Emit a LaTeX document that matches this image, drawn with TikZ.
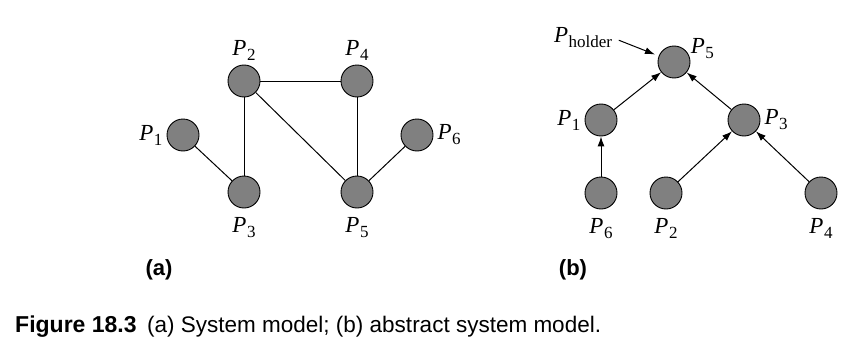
\documentclass[tikz,border=0pt]{standalone}
\usepackage{fontspec}
\setmainfont{Liberation Serif}
\newfontfamily\capfont{Liberation Sans}
\usetikzlibrary{arrows.meta, positioning}
\newcommand{\pname}[1]{\textit{P}\kern0.5pt\raisebox{-5pt}{\fontsize{17}{17}\selectfont #1}}
\tikzset{
  proc/.style={circle, draw, line width=0.9pt, fill=black!50, minimum size=32pt,
               inner sep=0pt},
  plabel/.style={font=\fontsize{23}{23}\selectfont, inner sep=1pt},
  link/.style={line width=1pt},
  arrow/.style={-{Latex[length=10pt, width=7pt]}, line width=1pt},
  sublabel/.style={font=\capfont\bfseries\fontsize{22}{22}\selectfont}
}

\begin{document}
\begin{tikzpicture}[x=1pt, y=-1pt, node distance=3pt]
    \useasboundingbox (0,0) rectangle (866,361);

    % (a) system model
    \node[proc] (a1) at (183,135) {};
    \node[proc] (a2) at (244,81) {};
    \node[proc] (a3) at (244,192) {};
    \node[proc] (a4) at (357,81) {};
    \node[proc] (a5) at (357,192) {};
    \node[proc] (a6) at (417,135) {};

    \node[plabel, left=of a1] {\pname{1}};
    \node[plabel, above=of a2] {\pname{2}};
    \node[plabel, below=8pt of a3] {\pname{3}};
    \node[plabel, above=of a4] {\pname{4}};
    \node[plabel, below=8pt of a5] {\pname{5}};
    \node[plabel, right=of a6] {\pname{6}};

    \draw[link] (a1) -- (a3);
    \draw[link] (a2) -- (a3);
    \draw[link] (a2) -- (a4);
    \draw[link] (a2) -- (a5);
    \draw[link] (a4) -- (a5);
    \draw[link] (a6) -- (a5);

    \node[sublabel] (capa) at (159,270) {(a)};

    % (b) abstract system model
    \node[proc] (b5) at (674,62) {};
    \node[proc] (b1) at (601,120) {};
    \node[proc] (b3) at (744,120) {};
    \node[proc] (b6) at (601,193) {};
    \node[proc] (b2) at (666,193) {};
    \node[proc] (b4) at (821,193) {};

    \node[plabel, above right=-9pt and 4pt of b5] {\pname{5}};
    \node[plabel, left=of b1] {\pname{1}};
    \node[plabel, right=of b3] {\pname{3}};
    \node[plabel, below=8pt of b6] {\pname{6}};
    \node[plabel, below=8pt of b2] {\pname{2}};
    \node[plabel, below=8pt of b4] {\pname{4}};
    \node[plabel] (hold) at (583,38) {\pname{holder}};

    \draw[arrow] (b1) -- (b5);
    \draw[arrow] (b3) -- (b5);
    \draw[arrow] (b6) -- (b1);
    \draw[arrow] (b2) -- (b3);
    \draw[arrow] (b4) -- (b3);
    \draw[arrow, shorten <=6pt, shorten >=4pt] (hold.east) -- (b5);

    \node[sublabel] (capb) at (573,270) {(b)};

    % caption
    \node[anchor=base west, inner sep=0pt, font=\capfont\bfseries\fontsize{23}{23}\selectfont] (fig) at (15,332) {Figure 18.3};
    \node[anchor=base west, inner sep=0pt, font=\capfont\fontsize{22.5}{22.5}\selectfont] (cap) at (147,332) {(a) System model; (b) abstract system model.};
\end{tikzpicture}
\end{document}
